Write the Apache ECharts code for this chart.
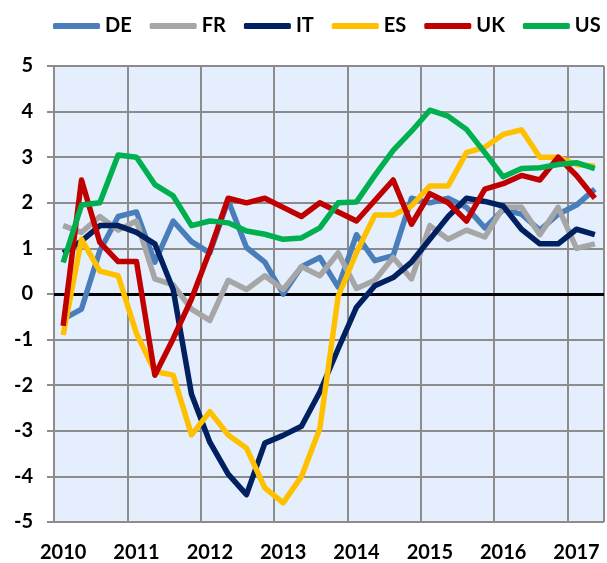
<!DOCTYPE html>
<html>
<head>
<meta charset="utf-8">
<script src="https://cdn.jsdelivr.net/npm/echarts@6/dist/echarts.min.js"></script>
<style>
  html, body { margin: 0; padding: 0; background: #ffffff; }
  #chart { width: 607px; height: 563px; }
</style>
</head>
<body>
<div id="chart"></div>
<script>
// quarters 2010Q1 .. 2017Q2
const quarters = [
  "2010Q1", "2010Q2", "2010Q3", "2010Q4",
  "2011Q1", "2011Q2", "2011Q3", "2011Q4",
  "2012Q1", "2012Q2", "2012Q3", "2012Q4",
  "2013Q1", "2013Q2", "2013Q3", "2013Q4",
  "2014Q1", "2014Q2", "2014Q3", "2014Q4",
  "2015Q1", "2015Q2", "2015Q3", "2015Q4",
  "2016Q1", "2016Q2", "2016Q3", "2016Q4",
  "2017Q1", "2017Q2",
];

const de = [-0.55, -0.33, 0.95, 1.7, 1.8, 0.7, 1.6, 1.15, 0.9, 2.05, 1.02, 0.7, 0.0, 0.6, 0.8, 0.15, 1.3, 0.73, 0.84, 2.1, 2.0, 2.1, 1.9, 1.45, 1.85, 1.75, 1.4, 1.75, 1.95, 2.3];
const fr = [1.5, 1.35, 1.7, 1.4, 1.6, 0.33, 0.2, -0.33, -0.58, 0.3, 0.1, 0.4, 0.1, 0.6, 0.4, 0.9, 0.12, 0.3, 0.8, 0.33, 1.5, 1.2, 1.4, 1.25, 1.9, 1.9, 1.3, 1.9, 1.0, 1.1];
const it = [0.9, 1.16, 1.5, 1.5, 1.35, 1.1, 0.1, -2.2, -3.25, -3.95, -4.4, -3.27, -3.1, -2.9, -2.15, -1.2, -0.29, 0.18, 0.36, 0.7, 1.2, 1.7, 2.1, 2.03, 1.93, 1.42, 1.1, 1.1, 1.42, 1.3];
const es = [-0.9, 1.2, 0.5, 0.4, -0.87, -1.7, -1.78, -3.09, -2.58, -3.09, -3.38, -4.25, -4.58, -4.0, -2.95, -0.05, 0.91, 1.73, 1.73, 1.93, 2.37, 2.37, 3.1, 3.22, 3.5, 3.6, 3.0, 3.0, 2.84, 2.8];
const uk = [-0.7, 2.5, 1.13, 0.71, 0.71, -1.78, -0.98, -0.11, 0.95, 2.1, 2.0, 2.1, 1.9, 1.7, 2.0, 1.8, 1.6, 2.05, 2.5, 1.53, 2.2, 2.0, 1.6, 2.3, 2.42, 2.6, 2.5, 3.0, 2.6, 2.1];
const us = [0.69, 1.95, 2.0, 3.05, 3.0, 2.4, 2.15, 1.5, 1.6, 1.56, 1.38, 1.31, 1.2, 1.23, 1.45, 2.0, 2.02, 2.6, 3.15, 3.57, 4.03, 3.9, 3.61, 3.1, 2.57, 2.75, 2.77, 2.84, 2.88, 2.75];

const seriesNames = ["DE", "FR", "IT", "ES", "UK", "US"];
const seriesData = [de, fr, it, es, uk, us];
const seriesColors = ["#4a7ebb", "#a6a6a6", "#002060", "#ffc000", "#c00000", "#00b050"];

const yTicks = [-5, -4, -3, -2, -1, 0, 1, 2, 3, 4, 5];

const fontFamily = "Lato, 'Liberation Sans', sans-serif";
const gridGray = "#8c8c8c";

const chart = echarts.init(document.getElementById("chart"), null, { renderer: "canvas" });

const series = seriesNames.map((name, i) => {
  const s = {
    name: name,
    type: "line",
    data: seriesData[i],
    symbol: "none",
    smooth: false,
    lineStyle: { color: seriesColors[i], width: 5.5, join: "round" },
    itemStyle: { color: seriesColors[i] },
    z: 3 + i,
  };
  if (i === 0) {
    // black zero line under the series
    s.markLine = {
      silent: true,
      symbol: "none",
      label: { show: false },
      lineStyle: { color: "#000000", width: 3, type: "solid" },
      data: [{ yAxis: 0 }],
      z: 1,
    };
  }
  return s;
});

chart.setOption({
  animation: false,
  backgroundColor: "#ffffff",
  legend: {
    left: 48,
    top: 11,
    icon: "roundRect",
    itemWidth: 47,
    itemHeight: 6,
    itemGap: 18,
    data: seriesNames,
    textStyle: { color: "#000000", fontSize: 20, fontWeight: "bold", fontFamily: fontFamily },
  },
  grid: {
    left: 54,
    right: 3,
    top: 66,
    bottom: 40,
    show: true,
    backgroundColor: "#e4eefc",
    borderWidth: 0,
  },
  xAxis: {
    type: "category",
    data: quarters,
    boundaryGap: true,
    axisLine: { show: false },
    axisTick: { show: false },
    splitLine: {
      show: true,
      interval: 3,
      lineStyle: { color: gridGray, width: 2 },
    },
    axisLabel: {
      interval: 3,
      margin: 21,
      color: "#000000",
      fontSize: 20,
      fontWeight: "bold",
      fontFamily: fontFamily,
      formatter: (v) => v.slice(0, 4),
    },
  },
  yAxis: {
    type: "value",
    min: yTicks[0],
    max: yTicks[yTicks.length - 1],
    interval: 1,
    axisLine: { show: false },
    axisTick: { show: true, length: 7, lineStyle: { color: gridGray, width: 2 } },
    splitLine: { show: true, lineStyle: { color: gridGray, width: 2 } },
    axisLabel: {
      margin: 21,
      color: "#000000",
      fontSize: 20,
      fontWeight: "bold",
      fontFamily: fontFamily,
    },
  },
  series: series,
});
</script>
</body>
</html>
